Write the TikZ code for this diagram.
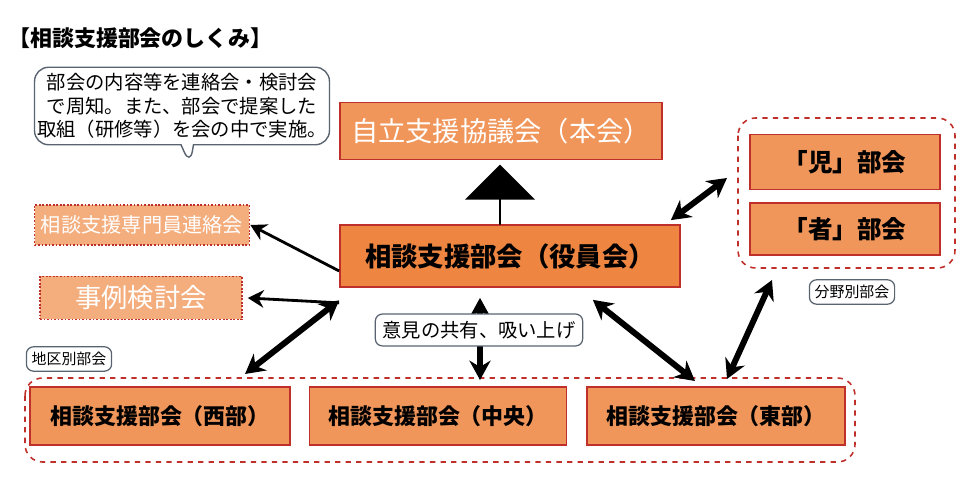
\documentclass[tikz,border=0pt]{standalone}
\usepackage{fontspec}
\setmainfont{Noto Sans CJK JP}
\usetikzlibrary{arrows.meta,shapes.arrows,shapes.callouts}
\definecolor{boxfill}{HTML}{F0965A}
\definecolor{boxfilldark}{HTML}{EE8642}
\definecolor{boxlight}{HTML}{F4AE7E}
\definecolor{boxline}{HTML}{C0302A}
\definecolor{grayline}{HTML}{5A6470}
\begin{document}
\begin{tikzpicture}[x=0.02cm,y=-0.02cm,
    box/.style={draw=boxline,line width=1pt,fill=boxfill,inner sep=0pt},
    weak/.style={draw=boxline,line width=1pt,densely dotted,fill=boxlight,inner sep=0pt,text=white},
    group/.style={draw=boxline,line width=0.9pt,dashed,rounded corners=10pt},
    tag/.style={draw=grayline,line width=0.7pt,rounded corners=4pt,fill=white,inner sep=3pt},
    thin arrow/.style={line width=1.6pt,-{Stealth[length=9pt,width=10pt]}},
    thick arrow/.style={line width=3.4pt,{Stealth[length=11pt,width=12pt]}-{Stealth[length=11pt,width=12pt]}}]
    % Frame
    \useasboundingbox (0,0) rectangle (970,492);

    % Title
    \node[anchor=west,font=\bfseries\fontsize{12.5}{14}\selectfont] (title) at (2,38) {【相談支援部会のしくみ】};

    % Callout
    \node[rectangle callout,draw=grayline,line width=0.8pt,rounded corners=8pt,fill=white,
          minimum width=5.9cm,minimum height=1.55cm,inner sep=1pt,align=center,
          callout absolute pointer={(190,165)},
          font=\fontsize{11}{13.5}\selectfont] (note) at (182,106)
        {部会の内容等を連絡会・検討会\\で周知。また、部会で提案した\\取組（研修等）を会の中で実施。};

    % Main boxes
    \node[box,minimum width=6.44cm,minimum height=1.14cm,text=white,font=\fontsize{15.5}{17}\selectfont] (honkai) at (501,131) {自立支援協議会（本会）};
    \node[box,fill=boxfilldark,minimum width=6.8cm,minimum height=1.24cm,font=\bfseries\fontsize{15}{17}\selectfont] (yakuin) at (510,256) {相談支援部会（役員会）};
    \node[single arrow,fill=black,rotate=90,minimum height=1.2cm,minimum width=1.4cm,
          single arrow head extend=0.3cm,inner sep=0pt] (up) at (500,195) {};

    % Left side meetings
    \node[weak,minimum width=4.3cm,minimum height=0.8cm,font=\fontsize{11.5}{13}\selectfont] (renraku) at (142,225) {相談支援専門員連絡会};
    \node[weak,minimum width=4.04cm,minimum height=0.86cm,font=\fontsize{15}{17}\selectfont] (jirei) at (141,298) {事例検討会};
    \draw[thin arrow] ([yshift=-0.3cm]yakuin.west) -- (renraku.east);
    \draw[thin arrow] ([yshift=-0.3cm]yakuin.south west) -- ([xshift=0.1cm]jirei.east);

    % Field groups
    \node[box,minimum width=3.8cm,minimum height=1.1cm,font=\bfseries\fontsize{14}{16}\selectfont] (ji) at (845,162) {「児」部会};
    \node[box,minimum width=3.8cm,minimum height=1.04cm,font=\bfseries\fontsize{14}{16}\selectfont] (sha) at (845,229) {「者」部会};
    \draw[group] (738,118) rectangle (955,268);
    \node[tag,font=\fontsize{8.5}{10}\selectfont] (bunya) at (852,292) {分野別部会};
    \coordinate (fieldtop) at (727,178);
    \coordinate (fieldbot) at (772,280);

    % District groups
    \node[box,minimum width=5.2cm,minimum height=1.16cm,font=\bfseries\fontsize{12.5}{14}\selectfont] (west) at (160,416) {相談支援部会（西部）};
    \node[box,minimum width=5.14cm,minimum height=1.16cm,font=\bfseries\fontsize{12.5}{14}\selectfont] (center) at (438,416) {相談支援部会（中央）};
    \node[box,minimum width=5.16cm,minimum height=1.16cm,font=\bfseries\fontsize{12.5}{14}\selectfont] (east) at (716,416) {相談支援部会（東部）};
    \draw[group] (25,378) rectangle (855,462);
    \node[tag,font=\fontsize{8.5}{10}\selectfont] (chiku) at (69,359) {地区別部会};
    \coordinate (westtop) at (245,374);
    \coordinate (centertop) at (480,380);
    \coordinate (easttop) at (695,381);
    \coordinate (easttop2) at (727,379);

    % Exchange arrows
    \draw[thick arrow] ([xshift=-0.18cm]yakuin.north east) ++(0,-0.9cm) coordinate (yakuinne) (yakuin.north east) ++(-0.2cm,0.08cm) -- (fieldtop);
    \draw[thick arrow] ([yshift=-0.25cm]yakuin.south west) -- (westtop);
    \draw[thick arrow] ([xshift=-0.6cm,yshift=-0.2cm]yakuin.south) -- (centertop);
    \draw[thick arrow] ([xshift=-1.76cm,yshift=-0.24cm]yakuin.south east) -- (easttop);
    \draw[thick arrow] (fieldbot) -- (easttop2);
    \node[tag,font=\fontsize{11}{13}\selectfont,inner sep=4pt] (share) at (479,330) {意見の共有、吸い上げ};
\end{tikzpicture}
\end{document}
